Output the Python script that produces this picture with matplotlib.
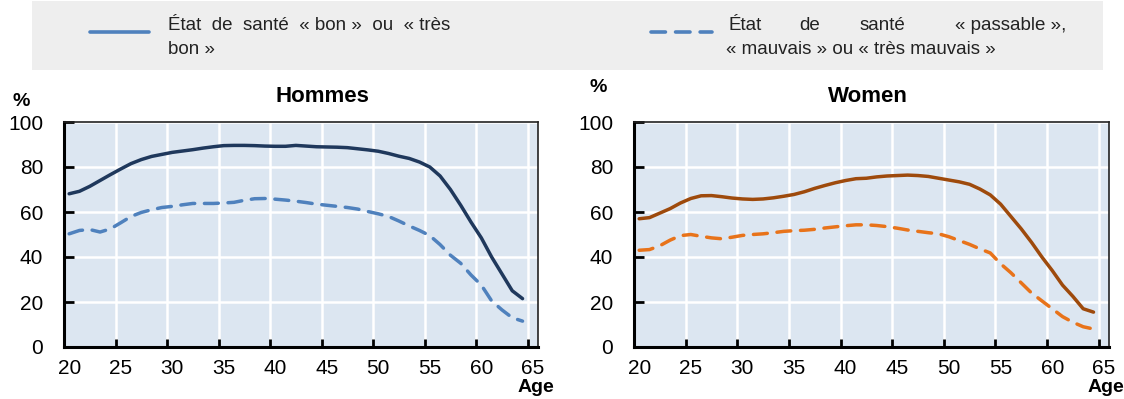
import matplotlib
matplotlib.use("Agg")
import matplotlib.pyplot as plt
from matplotlib.lines import Line2D
from matplotlib.patches import Rectangle
import numpy as np

plt.rcParams['font.family'] = ['Liberation Sans Narrow', 'Liberation Sans', 'DejaVu Sans']

ages = list(range(20, 65))

men_good = [68.1, 69.2, 71.4, 74.0, 76.6, 79.1, 81.5, 83.3, 84.7, 85.6,
            86.5, 87.1, 87.7, 88.4, 89.0, 89.5, 89.6, 89.6, 89.5, 89.3,
            89.2, 89.2, 89.6, 89.3, 89.0, 88.9, 88.8, 88.6, 88.1, 87.6,
            87.0, 86.0, 84.8, 83.8, 82.2, 80.0, 76.0, 70.0, 63.0, 55.5,
            48.5, 40.0, 32.5, 25.0, 21.5]
men_bad = [50.3, 51.8, 52.2, 51.1, 52.5, 55.2, 58.0, 59.8, 61.0, 62.0,
           62.5, 63.2, 63.8, 63.8, 63.8, 64.0, 64.3, 65.2, 65.9, 66.0,
           65.7, 65.3, 64.8, 64.2, 63.5, 63.0, 62.5, 62.0, 61.3, 60.2,
           59.2, 58.0, 56.0, 53.8, 51.8, 49.5, 45.5, 40.8, 37.2, 32.0,
           27.5, 20.5, 16.5, 13.0, 11.5]
women_good = [57.0, 57.5, 59.5, 61.5, 64.0, 66.0, 67.2, 67.3, 66.8, 66.2,
              65.8, 65.6, 65.8, 66.3, 67.0, 67.8, 69.0, 70.5, 71.8, 73.0,
              74.0, 74.8, 75.0, 75.6, 76.0, 76.2, 76.4, 76.2, 75.8, 75.0,
              74.2, 73.4, 72.3, 70.2, 67.6, 63.5, 58.0, 52.5, 46.5, 40.0,
              34.0, 27.5, 22.5, 17.0, 15.5]
women_bad = [43.0, 43.3, 45.0, 47.5, 49.5, 50.0, 49.2, 48.5, 48.1, 48.8,
             49.6, 50.0, 50.3, 50.8, 51.4, 51.7, 51.9, 52.3, 52.9, 53.4,
             53.9, 54.3, 54.3, 54.0, 53.5, 52.8, 52.0, 51.4, 50.8, 50.3,
             49.0, 47.3, 45.6, 43.6, 41.8, 37.0, 33.0, 28.5, 24.0, 20.5,
             17.0, 13.5, 11.0, 9.0, 8.0]

age_labels = [20, 25, 30, 35, 40, 45, 50, 55, 60, 65]
y_ticks = [0, 20, 40, 60, 80, 100]

legend_labels = ["État de santé « bon » ou « très", "bon »",
                 "État de santé « passable »,", "« mauvais » ou « très mauvais »"]

W, H = 1124, 399
fig = plt.figure(figsize=(W / 100, H / 100), dpi=100)


def fx(px):
    return px / W


def fy(py):
    return 1 - py / H


DASH = (4.0, 2.8)

# legend box
fig.patches.append(Rectangle((fx(32), fy(70)), fx(1103) - fx(32), fy(1) - fy(70),
                             transform=fig.transFigure, facecolor='#eeeeee',
                             edgecolor='none', zorder=0))
leg_col = '#4f81bd'
fig.lines.append(Line2D([fx(90), fx(149)], [fy(32), fy(32)], transform=fig.transFigure,
                        color=leg_col, lw=2.6, solid_capstyle='round'))
fig.lines.append(Line2D([fx(651), fx(712)], [fy(32), fy(32)], transform=fig.transFigure,
                        color=leg_col, lw=2.6, dashes=DASH, dash_capstyle='round'))
lfs = 13.5
fig.text(fx(168), fy(25), "État  de  santé  « bon »  ou  « très", fontsize=lfs, va='center', color='#222222')
fig.text(fx(168), fy(50), legend_labels[1], fontsize=lfs, va='center', color='#222222')
for word, xp in [("État", 728), ("de", 799), ("santé", 860), ("« passable »,", 955)]:
    fig.text(fx(xp), fy(25), word, fontsize=lfs, va='center', color='#222222')
fig.text(fx(726), fy(50), legend_labels[3], fontsize=lfs, va='center', color='#222222')

panels = [
    (64, 538, "Hommes", 322, (21, 101), men_good, men_bad, '#1f385c', '#4f81bd', 536),
    (634, 1109, "Women", 868, (598, 88), women_good, women_bad, '#9e4a0c', '#e8731a', 1106),
]

for x0, x1, title, tx, pct, good, bad, c1, c2, agex in panels:
    ax = fig.add_axes([fx(x0), fy(347), fx(x1) - fx(x0), fy(122) - fy(347)])
    ax.set_facecolor('#dce6f1')
    ax.plot(ages, bad, color=c2, lw=2.5, dashes=DASH, dash_capstyle='round', zorder=3)
    ax.plot(ages, good, color=c1, lw=2.5, solid_capstyle='round', zorder=4)
    ax.set_xlim(19.5, 65.5)
    ax.set_ylim(0, 100)
    ax.set_xticks(np.arange(24.5, 65, 5))
    ax.set_xticks(age_labels, minor=True)
    ax.set_xticklabels([], minor=False)
    ax.set_xticklabels([str(a) for a in age_labels], minor=True)
    ax.set_yticks(y_ticks)
    ax.set_yticklabels([str(v) for v in y_ticks])
    ax.tick_params(axis='x', which='major', direction='in', length=6, width=2, colors='black')
    ax.tick_params(axis='x', which='minor', length=0, pad=9, labelsize=15)
    ax.tick_params(axis='y', direction='in', length=7, width=2, pad=15, labelsize=15)
    ax.grid(True, which='major', color='white', lw=1.8, zorder=1)
    ax.set_axisbelow(True)
    for s in ['left', 'bottom']:
        ax.spines[s].set_linewidth(2.2)
        ax.spines[s].set_color('black')
    for s in ['top', 'right']:
        ax.spines[s].set_linewidth(1.2)
        ax.spines[s].set_color('#222222')
    fig.text(fx(tx), fy(97), title, fontsize=16, fontweight='bold', ha='center', va='center')
    fig.text(fx(pct[0]), fy(pct[1]), "%", fontsize=14, fontweight='bold', ha='center', va='center')
    fig.text(fx(agex), fy(388), "Age", fontsize=14, fontweight='bold', ha='center', va='center')

fig.savefig("out.png", dpi=100)
